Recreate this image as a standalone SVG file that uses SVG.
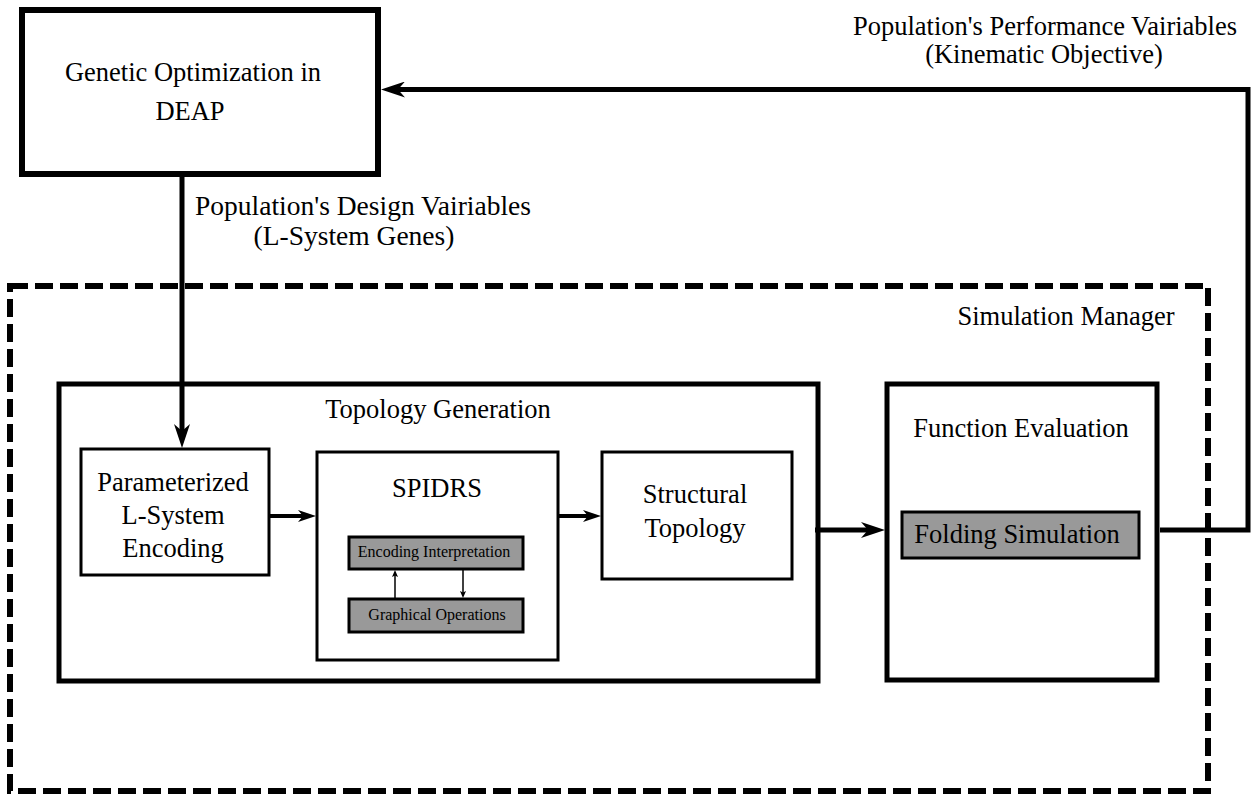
<svg xmlns="http://www.w3.org/2000/svg" width="1253" height="794" viewBox="0 0 1253 794">
<style>
  text { font-family: "Liberation Serif", "Times New Roman", serif; fill: #000; }
  .t { font-size: 26.5px; text-anchor: middle; }
  .d { font-size: 27.5px; text-anchor: middle; }
  .s { font-size: 16px; text-anchor: middle; }
  .box { fill: #fff; stroke: #000; }
  .gray { fill: #999999; stroke: #000; stroke-width: 3; }
  .conn { fill: none; stroke: #000; }
</style>
<defs>
  <marker id="ah" markerUnits="userSpaceOnUse" markerWidth="24" markerHeight="16" refX="10" refY="8" orient="auto" viewBox="0 0 24 16">
    <path d="M0,0 L24,8 L0,16 L7,8 z" fill="#000"/>
  </marker>
  <marker id="am" markerUnits="userSpaceOnUse" markerWidth="18" markerHeight="12" refX="8" refY="6" orient="auto" viewBox="0 0 18 12">
    <path d="M0,0 L18,6 L0,12 L5,6 z" fill="#000"/>
  </marker>
  <marker id="as" markerUnits="userSpaceOnUse" markerWidth="7" markerHeight="6" refX="3" refY="3" orient="auto" viewBox="0 0 7 6">
    <path d="M0,0 L7,3 L0,6 L1.5,3 z" fill="#000"/>
  </marker>
</defs>

<g id="simulation-manager">
  <rect x="10" y="286" width="1198" height="505" fill="none" stroke="#000" stroke-width="6" stroke-dasharray="18 7"/>
  <text class="t" x="1066" y="325">Simulation Manager</text>
</g>

<g id="genetic-optimization">
  <rect class="box" x="22" y="10" width="356" height="164" stroke-width="6"/>
  <text class="t" x="193" y="81">Genetic Optimization in</text>
  <text class="t" x="190" y="120">DEAP</text>
</g>

<g id="topology-generation">
  <rect class="box" x="59" y="384" width="759" height="297" stroke-width="5"/>
  <text class="t" x="438" y="418">Topology Generation</text>
</g>

<g id="parameterized-encoding">
  <rect class="box" x="81" y="449" width="188" height="126" stroke-width="3"/>
  <text class="t" x="173" y="491">Parameterized</text>
  <text class="t" x="173" y="524">L-System</text>
  <text class="t" x="173" y="557">Encoding</text>
</g>

<g id="spidrs">
  <rect class="box" x="317" y="452" width="241" height="208" stroke-width="3"/>
  <text class="t" x="437" y="497">SPIDRS</text>
</g>

<g id="encoding-interpretation">
  <rect class="gray" x="349" y="537" width="174" height="32"/>
  <text class="s" x="434" y="557">Encoding Interpretation</text>
</g>

<g id="graphical-operations">
  <rect class="gray" x="349" y="599" width="174" height="33"/>
  <text class="s" x="437" y="620">Graphical Operations</text>
</g>

<g id="structural-topology">
  <rect class="box" x="602" y="452" width="190" height="127" stroke-width="3"/>
  <text class="t" x="695" y="503">Structural</text>
  <text class="t" x="695" y="537">Topology</text>
</g>

<g id="function-evaluation">
  <rect class="box" x="887" y="384" width="270" height="296" stroke-width="5"/>
  <text class="t" x="1021" y="437">Function Evaluation</text>
</g>

<g id="folding-simulation">
  <rect class="gray" x="902" y="512" width="237" height="46"/>
  <text class="t" x="1017" y="543">Folding Simulation</text>
</g>

<g id="connectors">
  <line class="conn" x1="182" y1="177" x2="182" y2="434" stroke-width="5" marker-end="url(#ah)"/>
  <line class="conn" x1="270" y1="516" x2="306" y2="516" stroke-width="4" marker-end="url(#am)"/>
  <line class="conn" x1="558" y1="516" x2="591" y2="516" stroke-width="4" marker-end="url(#am)"/>
  <line class="conn" x1="815" y1="530" x2="871" y2="530" stroke-width="5" marker-end="url(#ah)"/>
  <polyline class="conn" points="1160,530 1248,530 1248,89.5 395,89.5" stroke-width="5" marker-end="url(#ah)"/>
  <line class="conn" x1="395" y1="599" x2="395" y2="574" stroke-width="1.5" marker-end="url(#as)"/>
  <line class="conn" x1="463" y1="570" x2="463" y2="594" stroke-width="1.5" marker-end="url(#as)"/>
</g>

<g id="labels">
  <text class="d" x="363" y="215">Population's Design Vairiables</text>
  <text class="d" x="354" y="245">(L-System Genes)</text>
  <text class="t" x="1045" y="35">Population's Performance Vairiables</text>
  <text class="t" x="1044" y="63">(Kinematic Objective)</text>
</g>
</svg>
